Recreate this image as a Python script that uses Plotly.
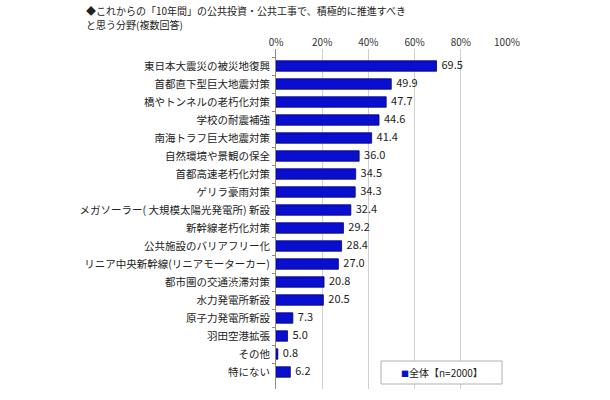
import plotly.graph_objects as go

categories = [
    "東日本大震災の被災地復興",
    "首都直下型巨大地震対策",
    "橋やトンネルの老朽化対策",
    "学校の耐震補強",
    "南海トラフ巨大地震対策",
    "自然環境や景観の保全",
    "首都高速老朽化対策",
    "ゲリラ豪雨対策",
    "メガソーラー( 大規模太陽光発電所) 新設",
    "新幹線老朽化対策",
    "公共施設のバリアフリー化",
    "リニア中央新幹線(リニアモーターカー)",
    "都市圏の交通渋滞対策",
    "水力発電所新設",
    "原子力発電所新設",
    "羽田空港拡張",
    "その他",
    "特にない",
]
values = [69.5, 49.9, 47.7, 44.6, 41.4, 36.0, 34.5, 34.3, 32.4, 29.2,
          28.4, 27.0, 20.8, 20.5, 7.3, 5.0, 0.8, 6.2]
series_name = "全体【n=2000】"
title_lines = ["◆これからの「10年間」の公共投資・公共工事で、積極的に推進すべき",
               "と思う分野(複数回答)"]
x_ticks = [0, 20, 40, 60, 80, 100]

FONT = "Noto Sans CJK JP, Noto Sans, sans-serif"
BLUE = "#0a0fcf"

L, R, T, B = 276, 103, 49, 11
PW, PH = 610 - L - R, 400 - T - B


def py(pix):
    """pixel row (from top) -> paper y"""
    return (400 - B - pix) / PH


def px(pix):
    return (pix - L) / PW


fig = go.Figure()
fig.add_trace(go.Bar(
    y=categories,
    x=values,
    orientation="h",
    name=series_name,
    marker=dict(color=BLUE, line=dict(color="#00007a", width=0.8)),
    showlegend=False,
))
# value labels
fig.add_trace(go.Scatter(
    y=categories,
    x=values,
    mode="text",
    text=[f"\u00a0\u00a0{v:.1f}" for v in values],
    textposition="middle right",
    textfont=dict(size=11, color="#222222", family=FONT),
    cliponaxis=False,
    showlegend=False,
    hoverinfo="skip",
))

fig.update_layout(
    width=610, height=400,
    margin=dict(l=L, r=R, t=T, b=B),
    paper_bgcolor="white",
    plot_bgcolor="white",
    font=dict(family=FONT, color="#222222"),
    bargap=0.42,
    showlegend=False,
    xaxis=dict(
        range=[0, 100],
        tickvals=x_ticks,
        ticktext=[f"{t}%" for t in x_ticks],
        side="top",
        showgrid=True,
        gridcolor="#d0d0d0",
        gridwidth=1,
        zeroline=False,
        showline=False,
        ticks="",
        tickfont=dict(size=10, color="#333333"),
        automargin=False,
        fixedrange=True,
    ),
    yaxis=dict(
        categoryorder="array",
        categoryarray=categories,
        autorange="reversed",
        showline=True,
        linecolor="#8c8c8c",
        linewidth=1,
        ticks="outside",
        ticklen=3,
        tickcolor="#8c8c8c",
        tickson="boundaries",
        tickfont=dict(size=10.5, color="#222222"),
        ticklabelstandoff=3,
        automargin=False,
        fixedrange=True,
    ),
    shapes=[dict(
        type="rect", xref="paper", yref="paper",
        x0=px(381), x1=px(502),
        y0=py(384), y1=py(361),
        line=dict(color="#b0b0b0", width=1),
        fillcolor="white", layer="above",
    )],
)

# legend box content
fig.add_annotation(
    text=f"<span style='color:{BLUE};font-size:8px'>■</span>{series_name}",
    xref="paper", yref="paper",
    x=px(441.5), y=py(372.5),
    xanchor="center", yanchor="middle",
    showarrow=False,
    font=dict(size=10, color="#222222", family=FONT),
)

# title (two lines)
for line, ypix in zip(title_lines, [10.5, 24.5]):
    fig.add_annotation(
        text=line,
        xref="paper", yref="paper",
        x=px(84), y=py(ypix),
        xanchor="left", yanchor="middle",
        align="left", showarrow=False,
        font=dict(size=10, color="#222222", family=FONT),
    )

fig.write_html("out.html", config={"displayModeBar": False},
               post_script="document.body.style.margin='0';")
